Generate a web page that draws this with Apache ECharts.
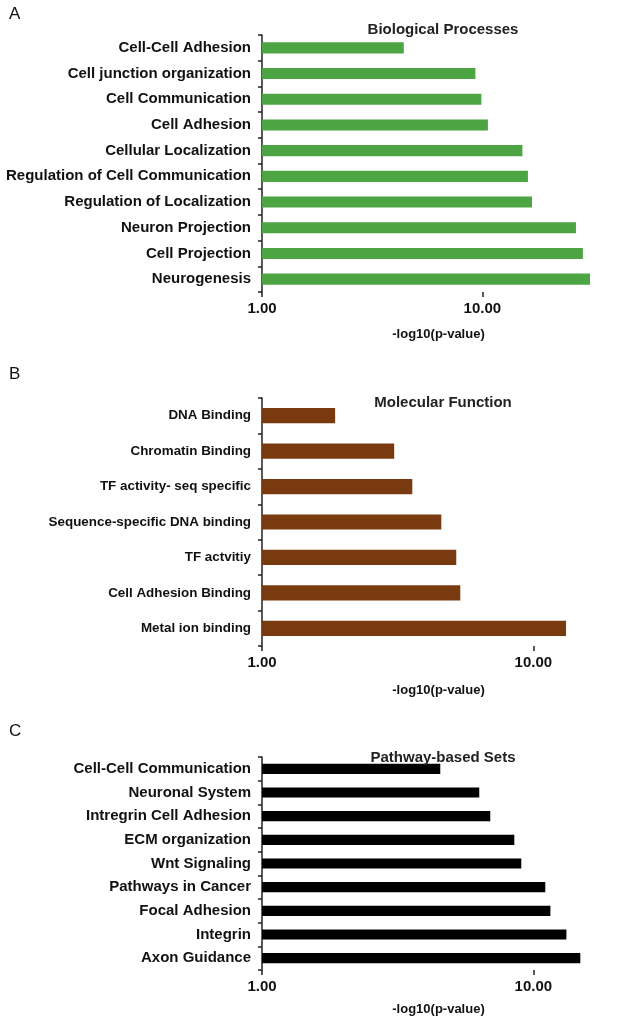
<!DOCTYPE html>
<html>
<head>
<meta charset="utf-8">
<script src="https://cdn.jsdelivr.net/npm/echarts@6/dist/echarts.min.js"></script>
<style>
  html, body { margin: 0; padding: 0; background: #fff; }
  #chart { width: 617px; height: 1020px; }
</style>
</head>
<body>
<div id="chart"></div>
<script>
// Biological Processes
const bpNames = ['Cell-Cell Adhesion', 'Cell junction organization', 'Cell Communication', 'Cell Adhesion',
  'Cellular Localization', 'Regulation of Cell Communication', 'Regulation of Localization',
  'Neuron Projection', 'Cell Projection', 'Neurogenesis'];
const bpValues = [4.4, 9.3, 9.9, 10.6, 15.2, 16.1, 16.8, 26.6, 28.6, 30.8];

// Molecular Function
const mfNames = ['DNA Binding', 'Chromatin Binding', 'TF activity- seq specific', 'Sequence-specific DNA binding',
  'TF actvitiy', 'Cell Adhesion Binding', 'Metal ion binding'];
const mfValues = [1.86, 3.07, 3.58, 4.58, 5.2, 5.38, 13.2];

// Pathway-based Sets
const pwNames = ['Cell-Cell Communication', 'Neuronal System', 'Intregrin Cell Adhesion', 'ECM organization',
  'Wnt Signaling', 'Pathways in Cancer', 'Focal Adhesion', 'Integrin', 'Axon Guidance'];
const pwValues = [4.54, 6.32, 6.94, 8.51, 9.03, 11.07, 11.56, 13.24, 14.9];

const xTicks = [1, 10];
const panelTitles = ['Biological Processes', 'Molecular Function', 'Pathway-based Sets'];
const panelLetters = ['A', 'B', 'C'];
const axisName = '-log10(p-value)';

const font = '"Liberation Sans", Arial, sans-serif';
const axisColor = '#222';

// layout of the three panels
const panels = [
  { names: bpNames, values: bpValues, color: '#4ca443', top: 35, height: 257, max: 40, labelSize: 15, nameGap: 36, letterTop: 1, titleTop: 17 },
  { names: mfNames, values: mfValues, color: '#7a3a10', top: 398, height: 248, max: 20, labelSize: 13.4, nameGap: 38, letterTop: 361, titleTop: 390 },
  { names: pwNames, values: pwValues, color: '#000000', top: 757, height: 213, max: 20, labelSize: 15, nameGap: 33, letterTop: 718, titleTop: 745 }
];

let chart = echarts.init(document.getElementById('chart'), null, { renderer: 'canvas' });

let option = {
  backgroundColor: '#fff',
  animation: false,
  title: [],
  grid: [],
  xAxis: [],
  yAxis: [],
  series: []
};

panels.forEach((p, i) => {
  option.title.push({
    text: panelLetters[i],
    left: 4,
    top: p.letterTop,
    textStyle: { fontFamily: font, fontWeight: 'normal', fontSize: 17, color: '#111' }
  });
  option.title.push({
    text: panelTitles[i],
    left: 438,
    top: p.titleTop,
    textAlign: 'center',
    textStyle: { fontFamily: font, fontWeight: 'bold', fontSize: 15, color: '#222' }
  });
  option.grid.push({ left: 262, top: p.top, width: 353, height: p.height, containLabel: false });
  option.xAxis.push({
    type: 'log',
    logBase: 10,
    gridIndex: i,
    min: 1,
    max: p.max,
    name: axisName,
    nameLocation: 'middle',
    nameGap: p.nameGap,
    nameTextStyle: { fontFamily: font, fontWeight: 'bold', fontSize: 13, color: '#111' },
    axisLine: { lineStyle: { color: axisColor, width: 1.5 } },
    axisTick: { show: true, length: 5, customValues: xTicks, lineStyle: { color: axisColor, width: 1.5 } },
    axisLabel: {
      customValues: xTicks,
      formatter: v => v.toFixed(2),
      fontFamily: font, fontWeight: 'bold', fontSize: 15, color: '#111', margin: 9
    },
    splitLine: { show: false },
    minorTick: { show: false }
  });
  option.yAxis.push({
    type: 'category',
    gridIndex: i,
    inverse: true,
    data: p.names,
    axisLine: { lineStyle: { color: axisColor, width: 1.5 } },
    axisTick: { show: true, length: 4, lineStyle: { color: axisColor, width: 1.5 } },
    axisLabel: { fontFamily: font, fontWeight: 'bold', fontSize: p.labelSize, color: '#111', margin: 11 }
  });
  option.series.push({
    type: 'bar',
    xAxisIndex: i,
    yAxisIndex: i,
    data: p.values,
    barWidth: '43%',
    itemStyle: { color: p.color },
    silent: true
  });
});

chart.setOption(option);
</script>
</body>
</html>
